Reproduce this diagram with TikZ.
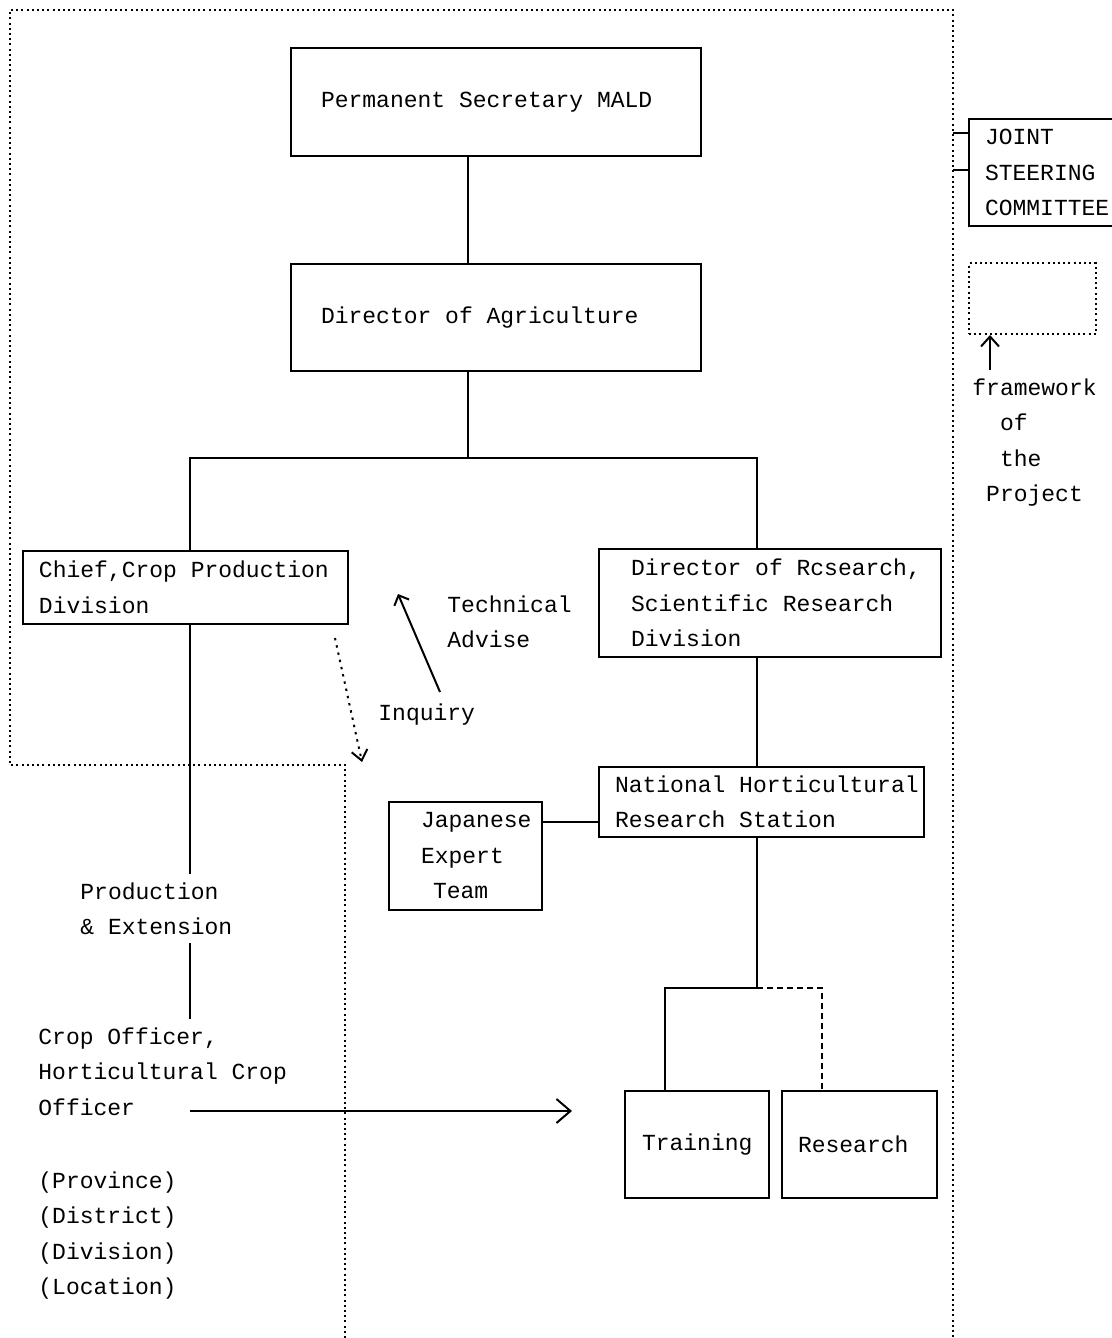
\documentclass[tikz,border=0pt]{standalone}
\usepackage{fontspec}
\setmainfont{Liberation Mono}
\usetikzlibrary{positioning, arrows.meta}

\begin{document}
\begin{tikzpicture}[x=0.5pt, y=-0.5pt,
    every node/.style={font=\fontsize{11.5pt}{17.75pt}\selectfont},
    box/.style={draw, line width=1pt, align=left, inner xsep=0pt, inner ysep=2pt, anchor=north west},
    lpad/.style={execute at begin node={\spaceskip=0.6em\relax\leftskip=#1\relax}},
    txt/.style={align=left, inner xsep=0pt, inner ysep=4pt, anchor=base west,
      execute at begin node={\spaceskip=0.6em\relax}},
    link/.style={line width=1pt},
    frame/.style={line width=1pt, dash pattern=on 1pt off 1.6pt},
    barb/.style 2 args={-{Straight Barb[length=#1,width=#2]}}]
    \useasboundingbox (0,0) rectangle (1112,1338);
    \clip (0,0) rectangle (1112,1338);
    % framework of the project
    \draw[frame] (345,1338) -- (345,765) -- (10,765) -- (10,10) -- (953,10) -- (953,1338);
    %
    \node[box, lpad=15pt, text width=205pt, minimum height=54pt] (perm) at (290,47) {Permanent Secretary MALD};
    \node[box, lpad=15pt, text width=205pt, minimum height=53.5pt] (agri) at (290,263) {Director of Agriculture};
    \node[box, lpad=8pt, text width=162.5pt, minimum height=36.5pt] (chief) at (22,550) {Chief,Crop Production\\Division};
    \node[box, lpad=16pt, text width=171pt, minimum height=54pt] (dres) at (598,548) {Director of Rcsearch,\\Scientific Research\\Division};
    \node[box, lpad=8pt, text width=162.5pt, minimum height=35pt] (nhrs) at (598,766) {National Horticultural\\Research Station};
    \node[box, lpad=16pt, text width=76.5pt, minimum height=54pt] (jet) at (388,801) {Japanese\\Expert\\\hspace{6pt}Team};
    \node[box, lpad=8.5pt, text width=72pt, minimum height=53.5pt] (train) at (624,1090) {Training};
    \node[box, lpad=8pt, text width=77.5pt, minimum height=53.5pt] (res) at (781,1090) {Research};
    \node[box, lpad=8pt, text width=100pt, minimum height=53.5pt] (jsc) at (968,118) {JOINT\\STEERING\\COMMITTEE};
    \node[box, frame, text width=63.5pt, minimum height=35.5pt] (fwbox) at (968,262) {};
    %
    \node[txt, text width=80pt] (prodext) at (80,899) {Production\\\& Extension};
    \node[txt, text width=140pt] (officer) at (38,1044) {Crop Officer,\\Horticultural Crop\\Officer};
    \node[txt, text width=80pt] (levels) at (38,1188) {(Province)\\(District)\\(Division)\\(Location)};
    \node[txt, text width=70pt] (tech) at (447,612) {Technical\\Advise};
    \node[txt, text width=60pt] (inq) at (378,720) {Inquiry};
    \node[txt, text width=75pt] (fwtext) at (972,395) {framework\\~~of\\~~the\\~Project};
    %
    \coordinate (px) at (468,0);
    \coordinate (cx) at (190,0);
    \coordinate (rx) at (757,0);
    \coordinate (tx) at (665,0);
    \coordinate (sx) at (822,0);
    \coordinate (fx) at (990,0);
    \coordinate (jy) at (0,822);
    \coordinate (split) at (468,458);
    \coordinate (split2) at (757,988);
    \coordinate (t1) at (953,133);
    \coordinate (t2) at (953,170);
    \coordinate (ofrom) at (190,1111);
    \coordinate (oto) at (572,1111);
    \coordinate (qfrom) at (440,692);
    \coordinate (qto) at (398,594);
    \coordinate (dfrom) at (335,638);
    \coordinate (dto) at (362,762);
    \coordinate (ffrom) at (990,370);
    %
    \draw[link] (perm.south -| px) -- (agri.north -| px);
    \draw[link] (agri.south -| px) -- (split);
    \draw[link] (chief.north -| cx) |- (split) -| (dres.north -| rx);
    \draw[link] (chief.south -| cx) -- (prodext.north -| cx);
    \draw[link] (prodext.south -| cx) -- (officer.north -| cx);
    \draw[link] (dres.south -| rx) -- (nhrs.north -| rx);
    \draw[link] (jet.east |- jy) -- (nhrs.west |- jy);
    \draw[link] (nhrs.south -| rx) -- (split2);
    \draw[link] (train.north -| tx) |- (split2);
    \draw[link, densely dashed] (split2) -| (res.north -| sx);
    \draw[link] (t1) -- (jsc.west |- t1);
    \draw[link] (t2) -- (jsc.west |- t2);
    %
    \draw[link, barb={7pt}{12pt}] (ofrom) -- (oto);
    \draw[link, barb={4pt}{8pt}] (qfrom) -- (qto);
    \draw[link, dash pattern=on 1.2pt off 2.5pt, barb={5pt}{8pt}] (dfrom) -- (dto);
    \draw[link, barb={5pt}{9pt}] (ffrom) -- (fwbox.south -| fx);
\end{tikzpicture}
\end{document}
